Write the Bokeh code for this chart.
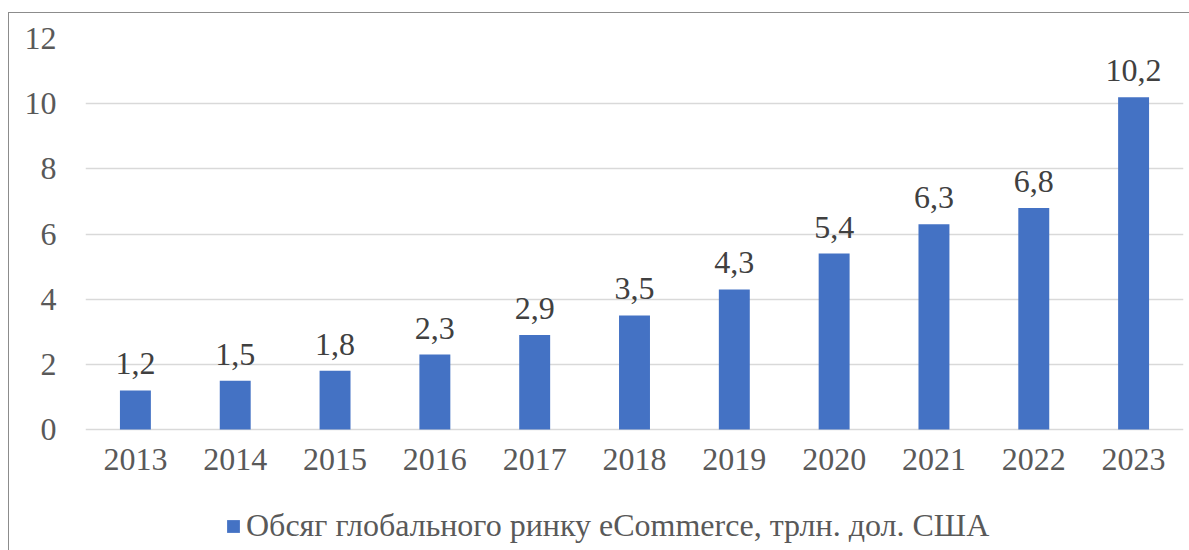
from bokeh.plotting import figure
from bokeh.models import ColumnDataSource, LabelSet, Legend, LegendItem, FixedTicker, Range1d
from bokeh.embed import file_html
from bokeh.resources import INLINE

years = ["2013", "2014", "2015", "2016", "2017", "2018", "2019", "2020", "2021", "2022", "2023"]
values = [1.2, 1.5, 1.8, 2.3, 2.9, 3.5, 4.3, 5.4, 6.3, 6.8, 10.2]
series_name = "Обсяг глобального ринку eCommerce, трлн. дол. США"
y_ticks = [0, 2, 4, 6, 8, 10, 12]

labels = [f"{v:.1f}".replace(".", ",") for v in values]
src = ColumnDataSource(dict(x=years, top=values, lab=labels, base=[0] * len(years)))

FONT = "Liberation Serif"
FS = "32px"

# frame: top at y=37 (value 12), value 0 at y=428, frame bottom at 550
px_per_unit = (428 - 37) / 12.0
y_bottom = -(550 - 428) / px_per_unit

p = figure(x_range=years, y_range=Range1d(y_bottom, 12), width=1181, height=538,
           output_backend="svg", toolbar_location=None,
           min_border_left=76, min_border_right=7, min_border_top=25, min_border_bottom=0)
p.margin = (12, 0, 0, 8)
p.styles = {"border-left": "1px solid #8c8c8c", "border-top": "1px solid #8c8c8c"}
p.outline_line_color = None
p.background_fill_color = "white"

r = p.vbar(x="x", top="top", bottom="base", width=0.31, source=src,
           fill_color="#4472C4", line_color=None)

p.add_layout(LabelSet(x="x", y="top", text="lab", source=src, text_align="center",
                      text_baseline="bottom", y_offset=16, text_font=FONT,
                      text_font_size=FS, text_color="#404040"))

p.add_layout(LabelSet(x="x", y="base", text="x", source=src, text_align="center",
                      text_baseline="top", y_offset=-19, text_font=FONT,
                      text_font_size=FS, text_color="#595959"))

p.xgrid.grid_line_color = None
p.ygrid.grid_line_color = "#d9d9d9"
p.ygrid.grid_line_width = 1.5
p.yaxis.ticker = FixedTicker(ticks=y_ticks)
p.xaxis.visible = False

ax = p.yaxis[0]
ax.axis_line_color = None
ax.major_tick_line_color = None
ax.minor_tick_line_color = None
ax.major_label_text_font = FONT
ax.major_label_text_font_size = FS
ax.major_label_text_color = "#595959"
ax.major_label_standoff = 23

legend = Legend(items=[LegendItem(label=series_name, renderers=[r])],
                orientation="horizontal", location=(140, 7),
                label_text_font=FONT, label_text_font_size=FS,
                label_text_color="#595959", glyph_width=16, glyph_height=16,
                label_standoff=5, padding=0, margin=0, border_line_color=None,
                background_fill_alpha=0)
p.add_layout(legend)

open("out.html", "w").write(file_html(p, INLINE))
